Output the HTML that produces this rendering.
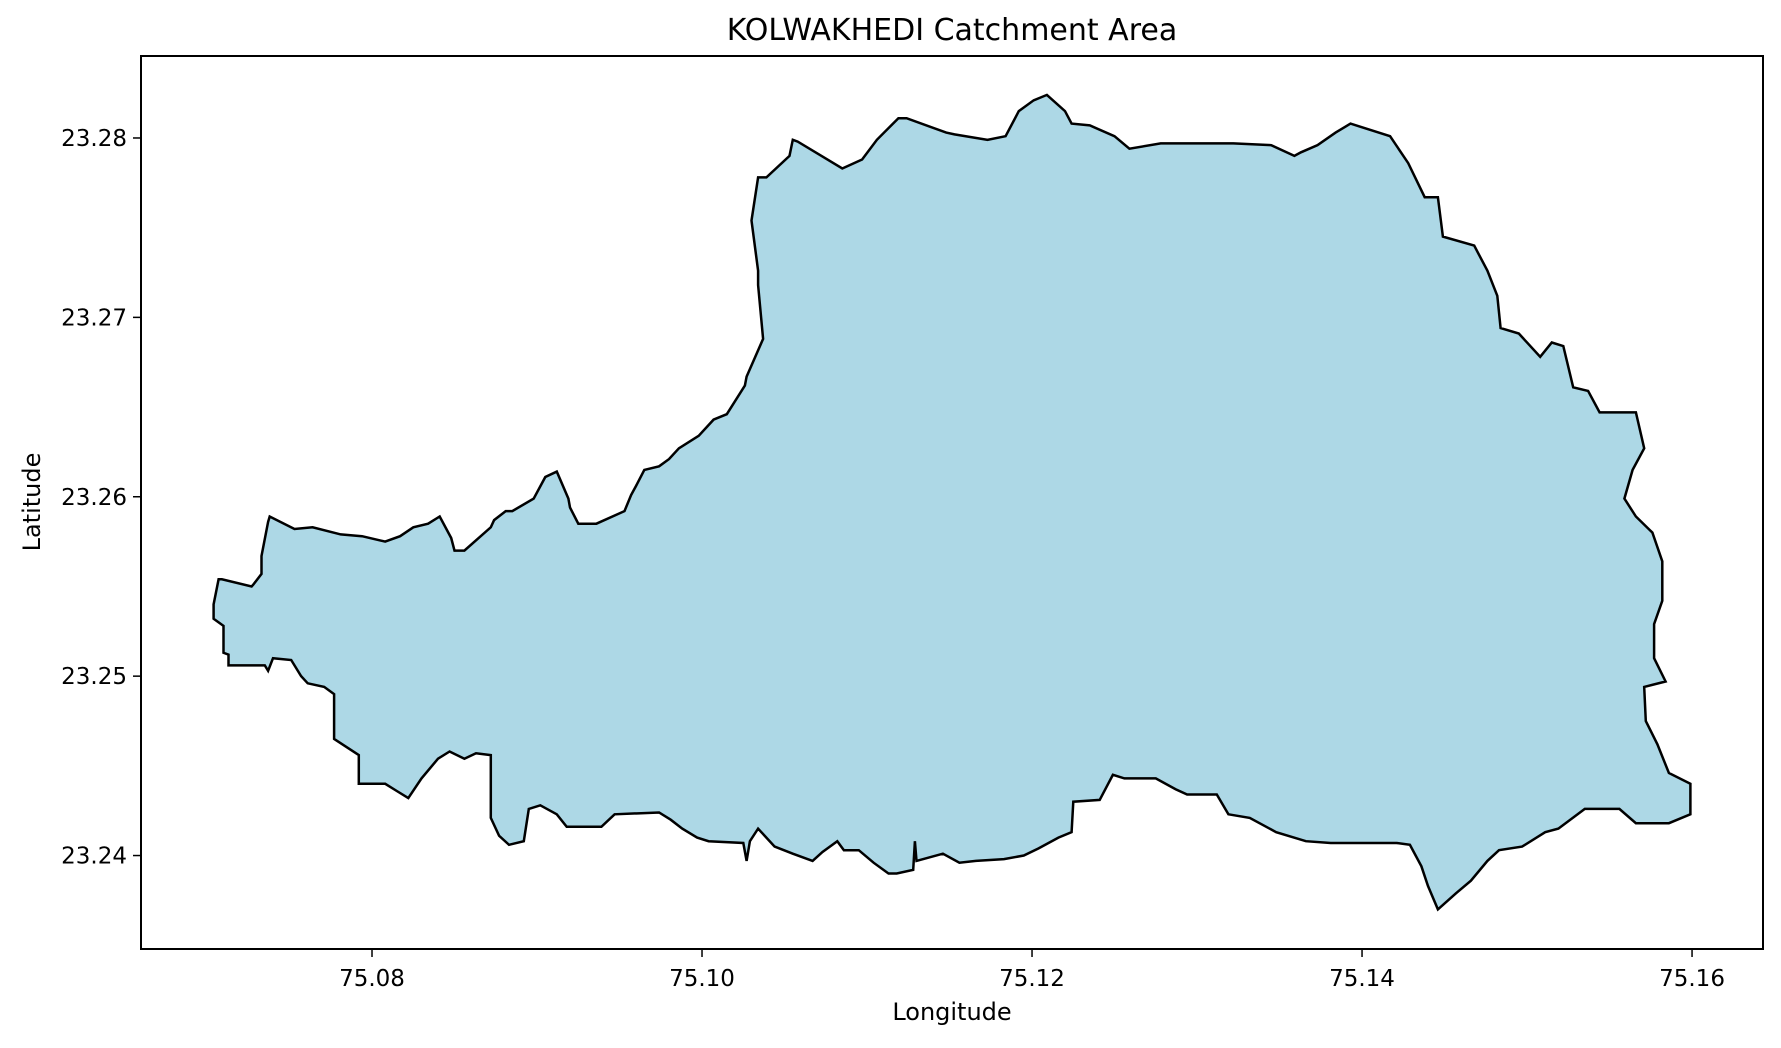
<!DOCTYPE html>
<html><head><meta charset="utf-8"><style>
body{margin:0;background:#fff;}
svg text{font-family:"DejaVu Sans","Liberation Sans",sans-serif;fill:#000;}
</style></head><body>
<svg id="chart" width="1781" height="1043" viewBox="0 0 1781 1043" xmlns="http://www.w3.org/2000/svg">
<rect width="1781" height="1043" fill="#fff"/>
<text x="952" y="40" font-size="30" text-anchor="middle">KOLWAKHEDI Catchment Area</text>
<g id="plot"></g>
<g id="xticks"></g>
<g id="yticks"></g>
<rect x="141" y="56" width="1622" height="893" fill="none" stroke="#000" stroke-width="2"/>
<text x="952" y="1020" font-size="24" text-anchor="middle">Longitude</text>
<text x="0" y="0" font-size="24" text-anchor="middle" transform="translate(40,502) rotate(-90)">Latitude</text>
</svg>
<script>
const xTicks=[75.08,75.10,75.12,75.14,75.16];
const xTickLabels=["75.08","75.10","75.12","75.14","75.16"];
const yTicks=[23.24,23.25,23.26,23.27,23.28];
const yTickLabels=["23.24","23.25","23.26","23.27","23.28"];
const boundaryLon=[75.0704,75.0704,75.0710,75.0710,75.0713,75.0713,75.0735,75.0737,75.0740,75.0751,75.0757,75.0761,75.0771,75.0777,75.0777,75.0792,75.0792,75.0808,75.0815,75.0822,75.0830,75.0840,75.0847,75.0856,75.0863,75.0872,75.0872,75.0877,75.0883,75.0892,75.0895,75.0902,75.0912,75.0918,75.0939,75.0947,75.0974,75.0981,75.0988,75.0997,75.1004,75.1025,75.1027,75.1029,75.1034,75.1044,75.1055,75.1067,75.1073,75.1082,75.1086,75.1095,75.1104,75.1113,75.1118,75.1128,75.1129,75.1130,75.1146,75.1156,75.1166,75.1183,75.1195,75.1204,75.1216,75.1224,75.1225,75.1241,75.1249,75.1256,75.1275,75.1287,75.1294,75.1312,75.1319,75.1332,75.1348,75.1366,75.1381,75.1395,75.1407,75.1421,75.1429,75.1436,75.1440,75.1446,75.1457,75.1466,75.1476,75.1483,75.1497,75.1511,75.1519,75.1535,75.1556,75.1566,75.1586,75.1599,75.1599,75.1586,75.1579,75.1572,75.1571,75.1584,75.1577,75.1577,75.1582,75.1582,75.1576,75.1566,75.1559,75.1564,75.1571,75.1566,75.1544,75.1537,75.1528,75.1522,75.1515,75.1508,75.1495,75.1484,75.1482,75.1476,75.1468,75.1449,75.1446,75.1438,75.1428,75.1417,75.1393,75.1384,75.1373,75.1363,75.1359,75.1345,75.1322,75.1304,75.1293,75.1278,75.1259,75.1250,75.1235,75.1224,75.1220,75.1209,75.1201,75.1192,75.1184,75.1173,75.1153,75.1148,75.1124,75.1119,75.1106,75.1097,75.1085,75.1058,75.1055,75.1053,75.1039,75.1034,75.1030,75.1034,75.1034,75.1037,75.1027,75.1026,75.1015,75.1007,75.0998,75.0986,75.0980,75.0974,75.0965,75.0960,75.0957,75.0953,75.0936,75.0925,75.0920,75.0919,75.0912,75.0905,75.0898,75.0885,75.0881,75.0874,75.0872,75.0856,75.0850,75.0848,75.0841,75.0834,75.0825,75.0817,75.0808,75.0794,75.0781,75.0764,75.0753,75.0738,75.0737,75.0733,75.0733,75.0728,75.0727,75.0709,75.0707];
const boundaryLat=[23.2540,23.2532,23.2528,23.2513,23.2512,23.2506,23.2506,23.2503,23.2510,23.2509,23.2500,23.2496,23.2494,23.2490,23.2465,23.2456,23.2440,23.2440,23.2436,23.2432,23.2443,23.2454,23.2458,23.2454,23.2457,23.2456,23.2421,23.2411,23.2406,23.2408,23.2426,23.2428,23.2423,23.2416,23.2416,23.2423,23.2424,23.2420,23.2415,23.2410,23.2408,23.2407,23.2397,23.2408,23.2415,23.2405,23.2401,23.2397,23.2402,23.2408,23.2403,23.2403,23.2396,23.2390,23.2390,23.2392,23.2408,23.2397,23.2401,23.2396,23.2397,23.2398,23.2400,23.2404,23.2410,23.2413,23.2430,23.2431,23.2445,23.2443,23.2443,23.2437,23.2434,23.2434,23.2423,23.2421,23.2413,23.2408,23.2407,23.2407,23.2407,23.2407,23.2406,23.2394,23.2383,23.2370,23.2379,23.2386,23.2397,23.2403,23.2405,23.2413,23.2415,23.2426,23.2426,23.2418,23.2418,23.2423,23.2440,23.2446,23.2462,23.2475,23.2494,23.2497,23.2510,23.2529,23.2542,23.2564,23.2580,23.2589,23.2599,23.2615,23.2627,23.2647,23.2647,23.2659,23.2661,23.2684,23.2686,23.2678,23.2691,23.2694,23.2712,23.2726,23.2740,23.2745,23.2767,23.2767,23.2786,23.2801,23.2808,23.2803,23.2796,23.2792,23.2790,23.2796,23.2797,23.2797,23.2797,23.2797,23.2794,23.2801,23.2807,23.2808,23.2815,23.2824,23.2821,23.2815,23.2801,23.2799,23.2802,23.2803,23.2811,23.2811,23.2799,23.2788,23.2783,23.2798,23.2799,23.2790,23.2778,23.2778,23.2754,23.2726,23.2718,23.2688,23.2667,23.2662,23.2646,23.2643,23.2634,23.2627,23.2621,23.2617,23.2615,23.2606,23.2601,23.2592,23.2585,23.2585,23.2594,23.2599,23.2614,23.2611,23.2599,23.2592,23.2592,23.2587,23.2583,23.2570,23.2570,23.2577,23.2589,23.2585,23.2583,23.2578,23.2575,23.2578,23.2579,23.2583,23.2582,23.2589,23.2586,23.2567,23.2557,23.2551,23.2550,23.2554,23.2554,23.2545];

const NS='http://www.w3.org/2000/svg';
const L=141,R=1763,T=56,B=949;
const lonMin=75.0660,lonMax=75.1643,latMin=23.23479,latMax=23.28457;
function xS(v){return L+(v-lonMin)/(lonMax-lonMin)*(R-L);}
function yS(v){return B-(v-latMin)/(latMax-latMin)*(B-T);}

const plot=document.getElementById('plot');
let d='';
for(let i=0;i<boundaryLon.length;i++){d+=(i?'L':'M')+xS(boundaryLon[i]).toFixed(1)+','+yS(boundaryLat[i]).toFixed(1);}
d+='Z';
const poly=document.createElementNS(NS,'path');
poly.setAttribute('d',d);
poly.setAttribute('fill','#add8e6');
poly.setAttribute('stroke','#000');
poly.setAttribute('stroke-width','2.5');
poly.setAttribute('stroke-linejoin','miter');


plot.appendChild(poly);

const xg=document.getElementById('xticks');
xTicks.forEach((v,i)=>{
  const x=xS(v);
  const t=document.createElementNS(NS,'line');
  t.setAttribute('x1',x);t.setAttribute('x2',x);t.setAttribute('y1',B);t.setAttribute('y2',B+8);
  t.setAttribute('stroke','#000');t.setAttribute('stroke-width','1.5');
  
  
  xg.appendChild(t);
  const tx=document.createElementNS(NS,'text');
  tx.setAttribute('x',x);tx.setAttribute('y',B+37);tx.setAttribute('font-size','23');tx.setAttribute('text-anchor','middle');
  tx.textContent=xTickLabels[i];
  
  
  xg.appendChild(tx);
});
const yg=document.getElementById('yticks');
yTicks.forEach((v,i)=>{
  const y=yS(v);
  const t=document.createElementNS(NS,'line');
  t.setAttribute('x1',L-8);t.setAttribute('x2',L);t.setAttribute('y1',y);t.setAttribute('y2',y);
  t.setAttribute('stroke','#000');t.setAttribute('stroke-width','1.5');
  
  
  yg.appendChild(t);
  const tx=document.createElementNS(NS,'text');
  tx.setAttribute('x',L-14);tx.setAttribute('y',y+8);tx.setAttribute('font-size','23');tx.setAttribute('text-anchor','end');
  tx.textContent=yTickLabels[i];
  
  
  yg.appendChild(tx);
});
</script>
</body></html>
